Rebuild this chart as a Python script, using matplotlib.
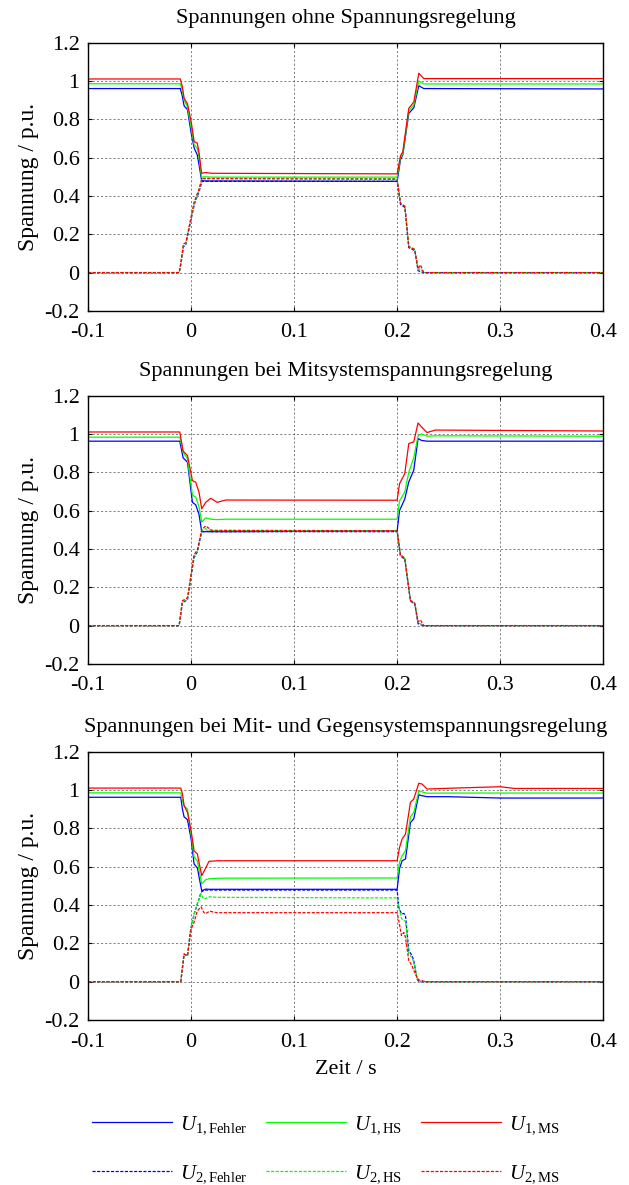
import matplotlib
matplotlib.use('Agg')
import matplotlib.pyplot as plt

plt.rcParams['font.family'] = ['Liberation Serif', 'DejaVu Serif']
plt.rcParams['mathtext.fontset'] = 'custom'
plt.rcParams['mathtext.rm'] = 'Liberation Serif'
plt.rcParams['mathtext.it'] = 'Liberation Serif:italic'
plt.rcParams['font.size'] = 15

# Titel der drei Diagramme
titles = ['Spannungen ohne Spannungsregelung',
          'Spannungen bei Mitsystemspannungsregelung',
          'Spannungen bei Mit- und Gegensystemspannungsregelung']
labels = [r'$U_{1,\mathrm{Fehler}}$', r'$U_{1,\mathrm{HS}}$', r'$U_{1,\mathrm{MS}}$',
          r'$U_{2,\mathrm{Fehler}}$', r'$U_{2,\mathrm{HS}}$', r'$U_{2,\mathrm{MS}}$']

# --- Diagramm 1: ohne Spannungsregelung ---
t1_mit = [-0.1, -0.0105, -0.0085, -0.0068, -0.0035, 0.0, 0.003, 0.006, 0.0078, 0.0102, 0.014, 0.02,
          0.2, 0.2033, 0.2055, 0.2113, 0.2162, 0.221, 0.2258, 0.4]
u1_fehler_1 = [0.96, 0.96, 0.92, 0.87, 0.85, 0.73, 0.649, 0.614, 0.56, 0.48, 0.478, 0.478,
               0.476, 0.59, 0.615, 0.83, 0.86, 0.975, 0.96, 0.958]
u1_hs_1 = [0.985, 0.985, 0.95, 0.90, 0.865, 0.76, 0.666, 0.649, 0.60, 0.498, 0.50, 0.498,
           0.498, 0.60, 0.62, 0.845, 0.875, 1.0, 0.984, 0.984]
u1_ms_1 = [1.01, 1.01, 0.97, 0.91, 0.88, 0.79, 0.683, 0.675, 0.623, 0.518, 0.522, 0.518,
           0.515, 0.61, 0.63, 0.857, 0.89, 1.04, 1.012, 1.012]
t1_gegen = [-0.1, -0.0116, -0.01, -0.0074, -0.0052, -0.0019, 0.0029, 0.0045, 0.0077, 0.0105,
            0.2, 0.2033, 0.2075, 0.2113, 0.2171, 0.2203, 0.2226, 0.2258, 0.4]
u2_fehler_1 = [0, 0, 0.04, 0.135, 0.145, 0.23, 0.35, 0.38, 0.42, 0.476,
               0.476, 0.355, 0.34, 0.13, 0.115, 0.01, 0.005, 0, 0]
u2_hs_1 = [0, 0, 0.045, 0.14, 0.15, 0.235, 0.36, 0.385, 0.43, 0.492,
           0.49, 0.362, 0.347, 0.137, 0.122, 0.015, 0.02, 0, 0]
u2_ms_1 = [0, 0, 0.049, 0.15, 0.155, 0.24, 0.365, 0.39, 0.435, 0.49,
           0.487, 0.36, 0.345, 0.135, 0.12, 0.02, 0.04, 0, 0]

# --- Diagramm 2: Mitsystemspannungsregelung ---
t2_mit = [-0.1, -0.011, -0.0077, -0.0035, 0.0013, 0.0045, 0.0077, 0.0103, 0.0142, 0.019, 0.0255, 0.0335,
          0.2, 0.2023, 0.2074, 0.2113, 0.2161, 0.2203, 0.2236, 0.229, 0.2371, 0.4]
u1_fehler_2 = [0.962, 0.962, 0.875, 0.852, 0.643, 0.63, 0.58, 0.49, 0.49, 0.49, 0.49, 0.49,
               0.494, 0.60, 0.66, 0.75, 0.81, 0.976, 0.966, 0.962, 0.962, 0.962]
u1_hs_2 = [0.983, 0.983, 0.904, 0.87, 0.68, 0.67, 0.62, 0.54, 0.562, 0.555, 0.553, 0.555,
           0.555, 0.65, 0.697, 0.80, 0.875, 0.99, 1.0, 0.988, 0.99, 0.988]
u1_ms_2 = [1.01, 1.01, 0.91, 0.887, 0.756, 0.748, 0.696, 0.609, 0.643, 0.664, 0.643, 0.655,
           0.654, 0.74, 0.793, 0.95, 0.958, 1.057, 1.037, 1.007, 1.02, 1.015]
t2_gegen = [-0.1, -0.0116, -0.0084, -0.0035, 0.0029, 0.0061, 0.0103, 0.0142, 0.02,
            0.2, 0.2032, 0.2074, 0.2129, 0.2171, 0.2203, 0.2226, 0.2258, 0.4]
u2_fehler_2 = [0, 0, 0.12, 0.135, 0.355, 0.385, 0.49, 0.492, 0.49,
               0.49, 0.362, 0.347, 0.128, 0.112, 0.01, 0.005, 0, 0]
u2_hs_2 = [0, 0, 0.125, 0.14, 0.365, 0.39, 0.495, 0.505, 0.495,
           0.494, 0.367, 0.35, 0.13, 0.115, 0.015, 0.01, 0, 0]
u2_ms_2 = [0, 0, 0.13, 0.145, 0.37, 0.395, 0.50, 0.52, 0.497,
           0.495, 0.37, 0.352, 0.132, 0.117, 0.02, 0.03, 0, 0]

# --- Diagramm 3: Mit- und Gegensystemspannungsregelung ---
t3_mit = [-0.1, -0.010, -0.0084, -0.0068, -0.0035, 0.0, 0.0029, 0.0061, 0.0103, 0.0142, 0.0174, 0.0271,
          0.2, 0.2023, 0.2048, 0.2081, 0.2129, 0.2161, 0.221, 0.2242, 0.229, 0.25, 0.3, 0.314, 0.4]
u1_fehler_3 = [0.962, 0.962, 0.90, 0.86, 0.845, 0.744, 0.614, 0.593, 0.475, 0.483, 0.482, 0.482,
               0.482, 0.59, 0.631, 0.64, 0.83, 0.849, 0.975, 0.97, 0.965, 0.965, 0.958, 0.958, 0.958]
u1_hs_3 = [0.985, 0.985, 0.944, 0.918, 0.90, 0.77, 0.65, 0.63, 0.51, 0.532, 0.537, 0.54,
           0.541, 0.623, 0.657, 0.683, 0.86, 0.883, 0.995, 0.99, 0.983, 0.984, 0.984, 0.984, 0.984]
u1_ms_3 = [1.01, 1.01, 0.98, 0.918, 0.883, 0.788, 0.683, 0.666, 0.553, 0.593, 0.628, 0.631,
           0.631, 0.70, 0.744, 0.77, 0.936, 0.953, 1.035, 1.031, 1.005, 1.009, 1.017, 1.008, 1.008]
t3_gegen = [-0.1, -0.010, -0.0068, -0.0035, -0.0003, 0.0029, 0.0061, 0.0097, 0.0125, 0.0142, 0.018, 0.025,
            0.2, 0.2016, 0.2042, 0.2065, 0.2081, 0.2113, 0.2145, 0.2161, 0.2194, 0.221, 0.2242, 0.2274, 0.4]
u2_fehler_3 = [0, 0, 0.144, 0.135, 0.275, 0.353, 0.405, 0.466, 0.478, 0.478, 0.478, 0.478,
               0.478, 0.388, 0.353, 0.356, 0.344, 0.162, 0.136, 0.11, 0.014, 0, 0, 0, 0]
u2_hs_3 = [0, 0, 0.144, 0.135, 0.275, 0.35, 0.41, 0.457, 0.43, 0.435, 0.443, 0.44,
           0.437, 0.39, 0.33, 0.318, 0.318, 0.144, 0.127, 0.10, 0.02, 0.005, 0, 0, 0]
u2_ms_3 = [0, 0, 0.144, 0.135, 0.27, 0.31, 0.37, 0.39, 0.36, 0.355, 0.368, 0.36,
           0.36, 0.318, 0.24, 0.257, 0.231, 0.11, 0.083, 0.06, 0.02, 0.009, 0.005, 0, 0]

panels = [
    (t1_mit, [u1_fehler_1, u1_hs_1, u1_ms_1], t1_gegen, [u2_fehler_1, u2_hs_1, u2_ms_1]),
    (t2_mit, [u1_fehler_2, u1_hs_2, u1_ms_2], t2_gegen, [u2_fehler_2, u2_hs_2, u2_ms_2]),
    (t3_mit, [u1_fehler_3, u1_hs_3, u1_ms_3], t3_gegen, [u2_fehler_3, u2_hs_3, u2_ms_3]),
]
farben = ['#0000ff', '#00ff00', '#ff0000']

fig = plt.figure(figsize=(6.29, 11.85), dpi=100)
bottoms = [0.7376, 0.4397, 0.1392]

for i, (tm, u1s, tg, u2s) in enumerate(panels):
    ax = fig.add_axes([0.140, bottoms[i], 0.819, 0.2265])
    handles = []
    for u, c in zip(u1s, farben):
        h, = ax.plot(tm, u, color=c, lw=0.9)
        handles.append(h)
    for u, c in zip(u2s, farben):
        h, = ax.plot(tg, u, color=c, lw=0.9, dashes=(2.5, 1.2))
        handles.append(h)
    ax.set_xlim(-0.1, 0.4)
    ax.set_ylim(-0.2, 1.2)
    ax.set_xticks([-0.1, 0, 0.1, 0.2, 0.3, 0.4])
    ax.set_xticklabels(['-0.1', '0', '0.1', '0.2', '0.3', '0.4'])
    ax.set_yticks([-0.2, 0, 0.2, 0.4, 0.6, 0.8, 1.0, 1.2])
    ax.set_yticklabels(['-0.2', '0', '0.2', '0.4', '0.6', '0.8', '1', '1.2'])
    ax.grid(True, color='0.3', linestyle=(0, (3, 3)), lw=0.5)
    ax.tick_params(direction='in', top=True, right=True, length=3, width=0.8, labelsize=16)
    ax.tick_params(axis='x', pad=9)
    ax.tick_params(axis='y', pad=6)
    for s in ax.spines.values():
        s.set_linewidth(1.0)
    ax.set_title(titles[i], fontsize=16, pad=14)
    ax.set_ylabel('Spannung / p.u.', fontsize=17, labelpad=4)
    if i == 2:
        ax.set_xlabel('Zeit / s', fontsize=16, labelpad=6)

# Reihenfolge: Spalten Fehler / HS / MS, Zeilen U1 / U2
order = [0, 3, 1, 4, 2, 5]
fig.legend([handles[k] for k in order], [labels[k] for k in order],
           loc='lower left', bbox_to_anchor=(0.146, 0.0), ncol=3, frameon=False,
           fontsize=15, handlelength=3.85, handletextpad=0.38, columnspacing=0.9,
           labelspacing=1.3, borderpad=0, borderaxespad=0)

fig.savefig('out.png', dpi=100)
